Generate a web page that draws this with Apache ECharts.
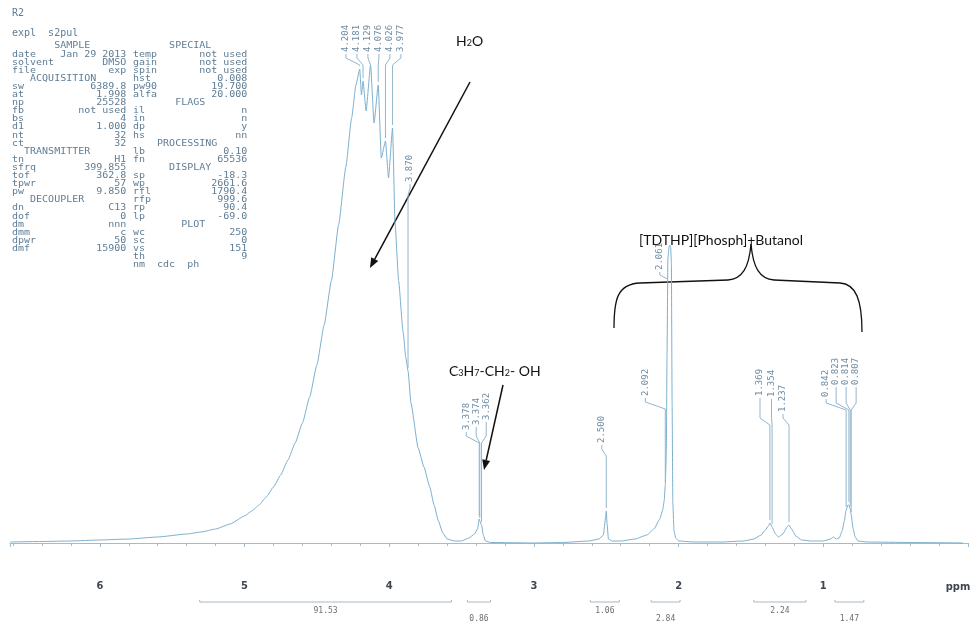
<!DOCTYPE html>
<html><head><meta charset="utf-8">
<script src="https://cdn.jsdelivr.net/npm/echarts@6/dist/echarts.min.js"></script>
<style>html,body{margin:0;padding:0;background:#fff}#c{width:971px;height:625px}</style>
</head><body><div id="c"></div>
<script>
// 1H NMR trace (DMSO): chemical shift in ppm and relative intensity
const shiftPpm = [6.62,6.40,6.20,6.00,5.80,5.60,5.40,5.30,5.20,5.10,5.00,4.95,4.90,4.85,4.80,4.75,4.70,4.65,4.60,4.55,4.50,4.45,4.40,4.35,4.30,4.26,4.23,
  4.204,4.192,4.181,4.160,4.129,4.105,4.076,4.055,4.026,4.005,3.977,3.960,3.935,3.905,3.885,3.870,3.850,3.80,3.76,3.72,3.69,3.66,3.63,3.60,3.55,3.50,3.45,3.41,3.39,
  3.378,3.374,3.362,3.35,3.335,3.30,3.00,2.80,2.62,2.55,2.52,2.505,2.500,2.495,2.485,2.46,2.40,2.30,2.22,2.17,2.13,2.11,2.100,2.092,2.085,2.080,2.074,2.066,2.061,2.055,2.050,2.045,2.040,2.032,2.020,2.00,1.90,1.70,
  1.55,1.48,1.43,1.40,1.38,1.369,1.354,1.33,1.31,1.28,1.25,1.237,1.22,1.19,1.15,1.08,1.00,0.95,0.93,0.91,0.89,0.87,0.855,0.842,0.830,0.823,0.814,0.807,0.795,0.78,0.76,0.70,0.40,0.034];
const intensity = [1,1.5,2,3,4,6,9,11,14,19,27,32,38,46,56,68,83,100,120,146,178,218,262,318,376,425,458,
  474,448,462,432,478,420,458,385,402,365,415,320,262,212,185,172,140,95,76,56,38,22,10,4,2,2,5,9,14,
  24,22,18,8,2,0.5,0,0.5,2,4,8,25,32,20,4,2,2,4,8,14,24,33,42,58,90,190,285,296,298,296,280,140,40,12,5,2,1,1,
  2,4,8,13,17,20,16,9,6,9,16,18,14,7,3,2,2,4,6,4,5,12,22,33,38,38,34,28,15,6,2,1,0.5,0];

// picked peaks, one list per label cluster
const peakGroups = [
  [4.204, 4.181, 4.129, 4.076, 4.026, 3.977],
  [3.870],
  [3.378, 3.374, 3.362],
  [2.500],
  [2.092],
  [2.061],
  [1.369, 1.354, 1.237],
  [0.842, 0.823, 0.814, 0.807]
];

// integral regions (ppm) and normalised areas
const integralFrom = [5.31, 3.46, 2.61, 2.19, 1.48, 0.92];
const integralTo = [3.57, 3.30, 2.41, 1.99, 1.12, 0.72];
const integralValue = ['91.53', '0.86', '1.06', '2.84', '2.24', '1.47'];

// acquisition parameter printout
const headerTitle = ['R2', 'expl  s2pul'];
const paramCol1 = [
  '       SAMPLE', 'date    Jan 29 2013', 'solvent        DMSO', 'file            exp', '   ACQUISITION',
  'sw           6389.8', 'at            1.998', 'np            25528', 'fb         not used', 'bs                4',
  'd1            1.000', 'nt               32', 'ct               32', '  TRANSMITTER', 'tn               H1',
  'sfrq        399.855', 'tof           362.8', 'tpwr             57', 'pw            9.850', '   DECOUPLER',
  'dn              C13', 'dof               0', 'dm              nnn', 'dmm               c', 'dpwr             50',
  'dmf           15900'];
const paramCol2 = [
  '      SPECIAL', 'temp       not used', 'gain       not used', 'spin       not used', 'hst           0.008',
  'pw90         19.700', 'alfa         20.000', '       FLAGS', 'il                n', 'in                n',
  'dp                y', 'hs               nn', '    PROCESSING', 'lb             0.10', 'fn            65536',
  '      DISPLAY', 'sp            -18.3', 'wp           2661.6', 'rfl          1790.4', 'rfp           999.6',
  'rp             90.4', 'lp            -69.0', '        PLOT', 'wc              250', 'sc                0',
  'vs              151', 'th                9', 'nm  cdc  ph'];

// ---- styling / layout ----
const TRACE = '#7cb0cf';
const LEADER = '#93b6cc';
const PEAK_TXT = '#6e8ca4';
const MONO = '"DejaVu Sans Mono", "Liberation Mono", monospace';
const Y_MIN = -30, Y_MAX = 500;

// label placement per cluster: horizontal shift, spacing, label bottoms (px)
const labelLayout = [
  { dx: -1.5, gap: 11, bottom: [52, 52, 52, 52, 52, 52] },
  { dx: 2, gap: 10, bottom: [182] },
  { dx: -4, gap: 10, bottom: [430, 425, 420] },
  { dx: -4.5, gap: 10, bottom: [443] },
  { dx: -20, gap: 10, bottom: [396] },
  { dx: -10, gap: 10, bottom: [270], side: true },
  { dx: -5.5, gap: 11.5, bottom: [396, 397, 412] },
  { dx: -8, gap: 10, bottom: [397, 385, 385, 385] }
];

function intensityAt(p) {
  let best = 0, bd = 1e9;
  for (let i = 0; i < shiftPpm.length; i++) {
    const d = Math.abs(shiftPpm[i] - p);
    if (d < bd) { bd = d; best = intensity[i]; }
  }
  return best;
}

const chart = echarts.init(document.getElementById('c'), null, { renderer: 'canvas' });

function renderPeakLabels(params, api) {
  const gi = params.dataIndex;
  const peaks = peakGroups[gi];
  const lay = labelLayout[gi];
  const n = peaks.length;
  const pts = peaks.map(p => api.coord([p, intensityAt(p)]));
  const cx = pts.reduce((s, q) => s + q[0], 0) / n + lay.dx;
  const maxBottom = Math.max.apply(null, lay.bottom);
  const children = [];
  peaks.forEach((p, i) => {
    const lx = cx + (i - (n - 1) / 2) * lay.gap;
    const b = lay.bottom[i];
    children.push({
      type: 'text', x: lx, y: b, rotation: Math.PI / 2,
      style: { text: p.toFixed(3), font: '9px ' + MONO, fill: PEAK_TXT, align: 'left', verticalAlign: 'middle' }
    });
    const px = pts[i][0], py = pts[i][1];
    let line;
    if (lay.side) {
      line = [[lx, b + 2], [lx, b + 5], [px - 2, b + 9]];
    } else {
      const e1 = maxBottom + 6, e2 = maxBottom + 13;
      const tail = Math.max(py - 3, e2);
      line = [[lx, b + 2], [lx, e1], [px, e2], [px, tail]];
    }
    children.push({ type: 'polyline', shape: { points: line }, style: { stroke: LEADER, lineWidth: 1, fill: null } });
  });
  return { type: 'group', children };
}

function renderIntegral(params, api) {
  const a = api.coord([api.value(0), Y_MIN]);
  const b = api.coord([api.value(1), Y_MIN]);
  const y = a[1] + 29;
  const lower = params.dataIndex % 2 === 1;
  return {
    type: 'group', children: [
      { type: 'polyline', shape: { points: [[a[0], y - 2], [a[0], y], [b[0], y], [b[0], y - 2]] },
        style: { stroke: '#a9b8c4', lineWidth: 1, fill: null } },
      { type: 'text', x: (a[0] + b[0]) / 2, y: y + (lower ? 17 : 9),
        style: { text: integralValue[params.dataIndex], font: '8px ' + MONO, fill: '#6d6d6d', align: 'center', verticalAlign: 'middle' } }
    ]
  };
}

// parameter printout as plain text lines
const PRINT = '#5f7d95';
const headerGraphics = [];
headerTitle.forEach((t, i) => headerGraphics.push({ type: 'text', x: 12, y: 8 + i * 20,
  style: { text: t, font: '10px ' + MONO, fill: PRINT } }));
paramCol1.forEach((t, i) => headerGraphics.push({ type: 'text', x: 12, y: 42 + i * 8.1, scaleY: 0.85,
  style: { text: t, font: '10px ' + MONO, fill: PRINT } }));
paramCol2.forEach((t, i) => headerGraphics.push({ type: 'text', x: 133, y: 42 + i * 8.1, scaleY: 0.85,
  style: { text: t, font: '10px ' + MONO, fill: PRINT } }));

function arrow(x1, y1, x2, y2) {
  const ang = Math.atan2(y2 - y1, x2 - x1), L = 10, W = 4;
  const bx = x2 - L * Math.cos(ang), by = y2 - L * Math.sin(ang);
  const nx = -Math.sin(ang) * W, ny = Math.cos(ang) * W;
  return [
    { type: 'line', shape: { x1, y1, x2: bx, y2: by }, style: { stroke: '#111', lineWidth: 1.5 } },
    { type: 'polygon', shape: { points: [[x2, y2], [bx + nx, by + ny], [bx - nx, by - ny]] }, style: { fill: '#111' } }
  ];
}

// curly brace over the alkyl region, built from cubic segments
function bez(x1, y1, cpx1, cpy1, cpx2, cpy2, x2, y2) {
  return { type: 'bezierCurve', shape: { x1, y1, cpx1, cpy1, cpx2, cpy2, x2, y2 }, style: { stroke: '#111', lineWidth: 1.3, fill: null } };
}
const brace = [
  bez(614, 328, 614, 300, 617, 284, 640, 283),
  { type: 'line', shape: { x1: 640, y1: 283, x2: 728, y2: 280 }, style: { stroke: '#111', lineWidth: 1.3 } },
  bez(728, 280, 742, 279, 749, 268, 751, 244),
  bez(751, 244, 753, 268, 760, 279, 774, 280),
  { type: 'line', shape: { x1: 774, y1: 280, x2: 840, y2: 283 }, style: { stroke: '#111', lineWidth: 1.3 } },
  bez(840, 283, 856, 284, 862, 300, 862, 332)
];

const richFmt = {
  n: { fontFamily: 'Lato, "Open Sans", sans-serif', fontSize: 14, lineHeight: 18, fill: '#111', verticalAlign: 'bottom' },
  s: { fontFamily: 'Lato, "Open Sans", sans-serif', fontSize: 9, lineHeight: 12, fill: '#111', verticalAlign: 'bottom' }
};

const annotations = [
  { type: 'text', x: 456, y: 30, style: { text: '{n|H}{s|2}{n|O}', rich: richFmt } },
  ...arrow(470, 82, 370, 268),
  { type: 'text', x: 449, y: 360, style: { text: '{n|C}{s|3}{n|H}{s|7}{n|-CH}{s|2}{n|- OH}', rich: richFmt } },
  ...arrow(503, 385, 484, 470),
  { type: 'text', x: 721, y: 240, style: { text: '[TDTHP][Phosph]+Butanol', font: '14px Lato, "Open Sans", sans-serif', fill: '#111', align: 'center', verticalAlign: 'middle' } },
  ...brace,
  { type: 'text', x: 958, y: 587, style: { text: 'ppm', font: 'bold 11px "DejaVu Sans Condensed", "DejaVu Sans", sans-serif', fill: '#3d4650', align: 'center', verticalAlign: 'middle' } }
];

chart.setOption({
  animation: false,
  backgroundColor: '#fff',
  grid: { left: 10, right: 1, top: 43, bottom: 52 },
  xAxis: {
    type: 'value', inverse: true, min: 0, max: 6.621, interval: 1,
    axisLine: { lineStyle: { color: '#9fbdd0', width: 1 } },
    axisTick: { show: true, length: 4, lineStyle: { color: '#9fbdd0' } },
    minorTick: { show: true, splitNumber: 5, length: 3, lineStyle: { color: '#9fbdd0' } },
    splitLine: { show: false },
    axisLabel: {
      margin: 8, fontSize: 11, fontWeight: 'bold', color: '#3d4650',
      fontFamily: '"DejaVu Sans Condensed", "DejaVu Sans", sans-serif',
      formatter: v => (Math.abs(v - Math.round(v)) < 1e-6 && v > 0.5) ? String(Math.round(v)) : ''
    }
  },
  yAxis: { type: 'value', min: Y_MIN, max: Y_MAX, show: false },
  series: [
    {
      type: 'line', data: shiftPpm.map((p, i) => [p, intensity[i]]),
      showSymbol: false, smooth: 0.15, smoothMonotone: 'x',
      lineStyle: { color: TRACE, width: 1 }, z: 3
    },
    {
      type: 'custom', data: peakGroups.map(g => [g[0], 0]), renderItem: renderPeakLabels, z: 4, silent: true
    },
    {
      type: 'custom', data: integralFrom.map((f, i) => [f, integralTo[i]]), encode: { x: [0, 1] },
      renderItem: renderIntegral, z: 4, silent: true
    }
  ],
  graphic: headerGraphics.concat(annotations)
});
</script>
</body></html>
